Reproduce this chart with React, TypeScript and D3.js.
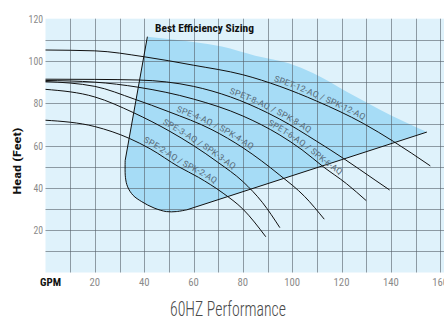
import * as React from 'react';
import * as d3 from 'd3';

const W = 444;
const H = 317;

// axis ticks
const xTickValues = [20, 40, 60, 80, 100, 120, 140, 160];
const yTickValues = [20, 40, 60, 80, 100, 120];

// pump curves: [GPM, head in feet]
const spet12 = [[0, 105.2], [20, 104.8], [40, 102], [60, 98], [80, 93.5], [95, 88], [110, 81], [128.8, 70.5], [141, 62], [156, 50.4]];
const spet8 = [[0, 91.4], [20, 91.3], [38, 91], [60, 88], [75, 83], [90, 75.5], [95, 72.5], [110, 62], [120.7, 54], [133.6, 43.7], [139.5, 39]];
const spet6 = [[0, 90.8], [20, 90], [37.6, 87.6], [60, 82], [80, 74], [95, 65], [104, 58], [112.6, 50], [122, 42], [130, 34]];
const spe4 = [[0, 90.3], [20, 88], [36, 82], [50, 76], [67.5, 67.5], [80, 59], [95, 46], [105, 36], [113, 25.2]];
const spe3 = [[0, 86.6], [20, 83], [35.6, 75.6], [50, 67], [60, 60], [70, 52], [80, 43], [88, 33], [95, 21.2]];
const spe2 = [[0, 72], [20, 69], [34, 63.4], [42.4, 58.5], [54, 50], [62, 45], [72, 37.5], [80, 30], [89.3, 16.9]];

const curveNames = ['SPET-12-AQ / SPK-12-AQ', 'SPET-8-AQ / SPK-8-AQ', 'SPET-6-AQ / SPK-6-AQ', 'SPE-4-AQ / SPK-4-AQ', 'SPE-3-AQ / SPK-3-AQ', 'SPE-2-AQ / SPK-2-AQ'];
const curveData = [spet12, spet8, spet6, spe4, spe3, spe2];
const labelStart = [92, 74, 89.4, 52.5, 46.8, 39]; // GPM where label text begins
const labelLength = [98, 89, 88, 84, 84, 83];

// best efficiency zone
const zoneTop = [[41.3, 111.5], [60, 109], [71.5, 106.8], [85, 102.5], [98.6, 98.9], [108.6, 94.2], [122.1, 85.5], [135.6, 77], [154.6, 66.4]];
const zoneLeft = [[41.3, 111.5], [32.3, 53]];
const zoneBottomCurve = [[32.3, 53], [32.4, 45], [33.3, 40.5], [35.5, 36.5], [39, 33.5], [44, 30.5], [49, 28.8], [53, 28.8], [57.2, 29.6]];
const zoneBottomLine = [[57.2, 29.6], [154.6, 66.4]];

const App = () => {
    const ref = React.useRef(null);

    React.useEffect(() => {
        const svg = d3.select(ref.current);
        svg.selectAll('*').remove();

        const x = d3.scaleLinear().domain([0, 160]).range([45.5, 440.2]);
        const y = d3.scaleLinear().domain([0, 120]).range([272.5, 18.7]);

        const condensed = "'Roboto Condensed','DejaVu Sans Condensed','Liberation Sans Narrow',Roboto,sans-serif";

        svg.append('rect')
            .attr('x', x(0)).attr('y', y(120))
            .attr('width', W - x(0)).attr('height', y(0) - y(120))
            .attr('fill', '#dff2fb');

        const lin = d3.line().x(d => x(d[0])).y(d => y(d[1]));
        const smooth = d3.line().x(d => x(d[0])).y(d => y(d[1])).curve(d3.curveMonotoneX);
        const round = d3.line().x(d => x(d[0])).y(d => y(d[1])).curve(d3.curveCatmullRom.alpha(0.5));

        // shaded zone fill
        const fillD = smooth(zoneTop)
            + lin(zoneBottomLine.slice().reverse()).replace('M', 'L')
            + round(zoneBottomCurve.slice().reverse()).replace('M', 'L')
            + lin(zoneLeft.slice().reverse()).replace('M', 'L') + 'Z';
        svg.append('path').attr('d', fillD).attr('fill', '#a6dcf6');

        // grid
        const grid = svg.append('g').attr('stroke', 'rgba(85,95,105,0.6)').attr('stroke-width', 1);
        grid.selectAll('line.v').data(d3.range(10, 161, 10)).enter().append('line')
            .attr('x1', d => Math.round(x(d)) + 0.5).attr('x2', d => Math.round(x(d)) + 0.5)
            .attr('y1', y(120)).attr('y2', y(0));
        grid.selectAll('line.h').data(d3.range(10, 111, 10)).enter().append('line')
            .attr('y1', d => Math.round(y(d)) + 0.5).attr('y2', d => Math.round(y(d)) + 0.5)
            .attr('x1', x(0)).attr('x2', W);

        // zone outline (left, bottom)
        const outlineD = lin(zoneLeft) + round(zoneBottomCurve).replace('M', 'L') + lin(zoneBottomLine).replace('M', 'L');
        svg.append('path').attr('d', outlineD).attr('fill', 'none').attr('stroke', '#111').attr('stroke-width', 1);

        // pump curves
        curveData.forEach((pts, i) => {
            const p = svg.append('path')
                .attr('id', 'curve' + i)
                .attr('d', smooth(pts))
                .attr('fill', 'none')
                .attr('stroke', '#111')
                .attr('stroke-width', 1);
            const node = p.node();
            const total = node.getTotalLength();
            const target = x(labelStart[i]);
            let lo = 0, hi = total;
            for (let k = 0; k < 30; k++) {
                const mid = (lo + hi) / 2;
                if (node.getPointAtLength(mid).x < target) lo = mid; else hi = mid;
            }
            svg.append('text')
                .attr('font-family', condensed)
                .attr('font-size', 8.5)
                .attr('fill', '#5b6f7d')
                .attr('dy', -3)
                .append('textPath')
                .attr('href', '#curve' + i)
                .attr('startOffset', lo)
                .attr('textLength', labelLength[i])
                .attr('lengthAdjust', 'spacingAndGlyphs')
                .text(curveNames[i]);
        });

        // tick labels
        svg.selectAll('text.xt').data(xTickValues).enter().append('text')
            .attr('x', d => x(d)).attr('y', 286)
            .attr('text-anchor', 'middle')
            .attr('font-family', condensed).attr('font-size', 11)
            .attr('fill', '#8a8a8a')
            .attr('textLength', d => String(d).length * 5.3)
            .attr('lengthAdjust', 'spacingAndGlyphs')
            .text(d => d);
        svg.selectAll('text.yt').data(yTickValues).enter().append('text')
            .attr('x', 43).attr('y', d => y(d) + 4)
            .attr('text-anchor', 'end')
            .attr('font-family', condensed).attr('font-size', 11)
            .attr('fill', '#8a8a8a')
            .attr('textLength', d => String(d).length * 4.8)
            .attr('lengthAdjust', 'spacingAndGlyphs')
            .text(d => d);

        svg.append('text')
            .attr('x', 40).attr('y', 286)
            .attr('font-family', condensed).attr('font-size', 10).attr('font-weight', 'bold')
            .attr('fill', '#111')
            .attr('textLength', 21).attr('lengthAdjust', 'spacingAndGlyphs')
            .text('GPM');

        svg.append('text')
            .attr('transform', 'translate(21,161) rotate(-90)')
            .attr('text-anchor', 'middle')
            .attr('font-family', condensed).attr('font-size', 10).attr('font-weight', 'bold')
            .attr('fill', '#111')
            .attr('textLength', 67).attr('lengthAdjust', 'spacingAndGlyphs')
            .text('Head (Feet)');

        svg.append('text')
            .attr('x', 155).attr('y', 32)
            .attr('font-family', condensed).attr('font-size', 10.5).attr('font-weight', 'bold')
            .attr('fill', '#111')
            .attr('textLength', 99).attr('lengthAdjust', 'spacingAndGlyphs')
            .text('Best Efficiency Sizing');

        svg.append('text')
            .attr('x', 170).attr('y', 315.5)
            .attr('font-family', condensed).attr('font-size', 21).attr('font-weight', 300)
            .attr('fill', '#4a4a4a')
            .attr('textLength', 116).attr('lengthAdjust', 'spacingAndGlyphs')
            .text('60HZ Performance');
    }, []);

    return <svg ref={ref} width={W} height={H} style={{ position: 'absolute', left: 0, top: 0 }} />;
};

export default App;
